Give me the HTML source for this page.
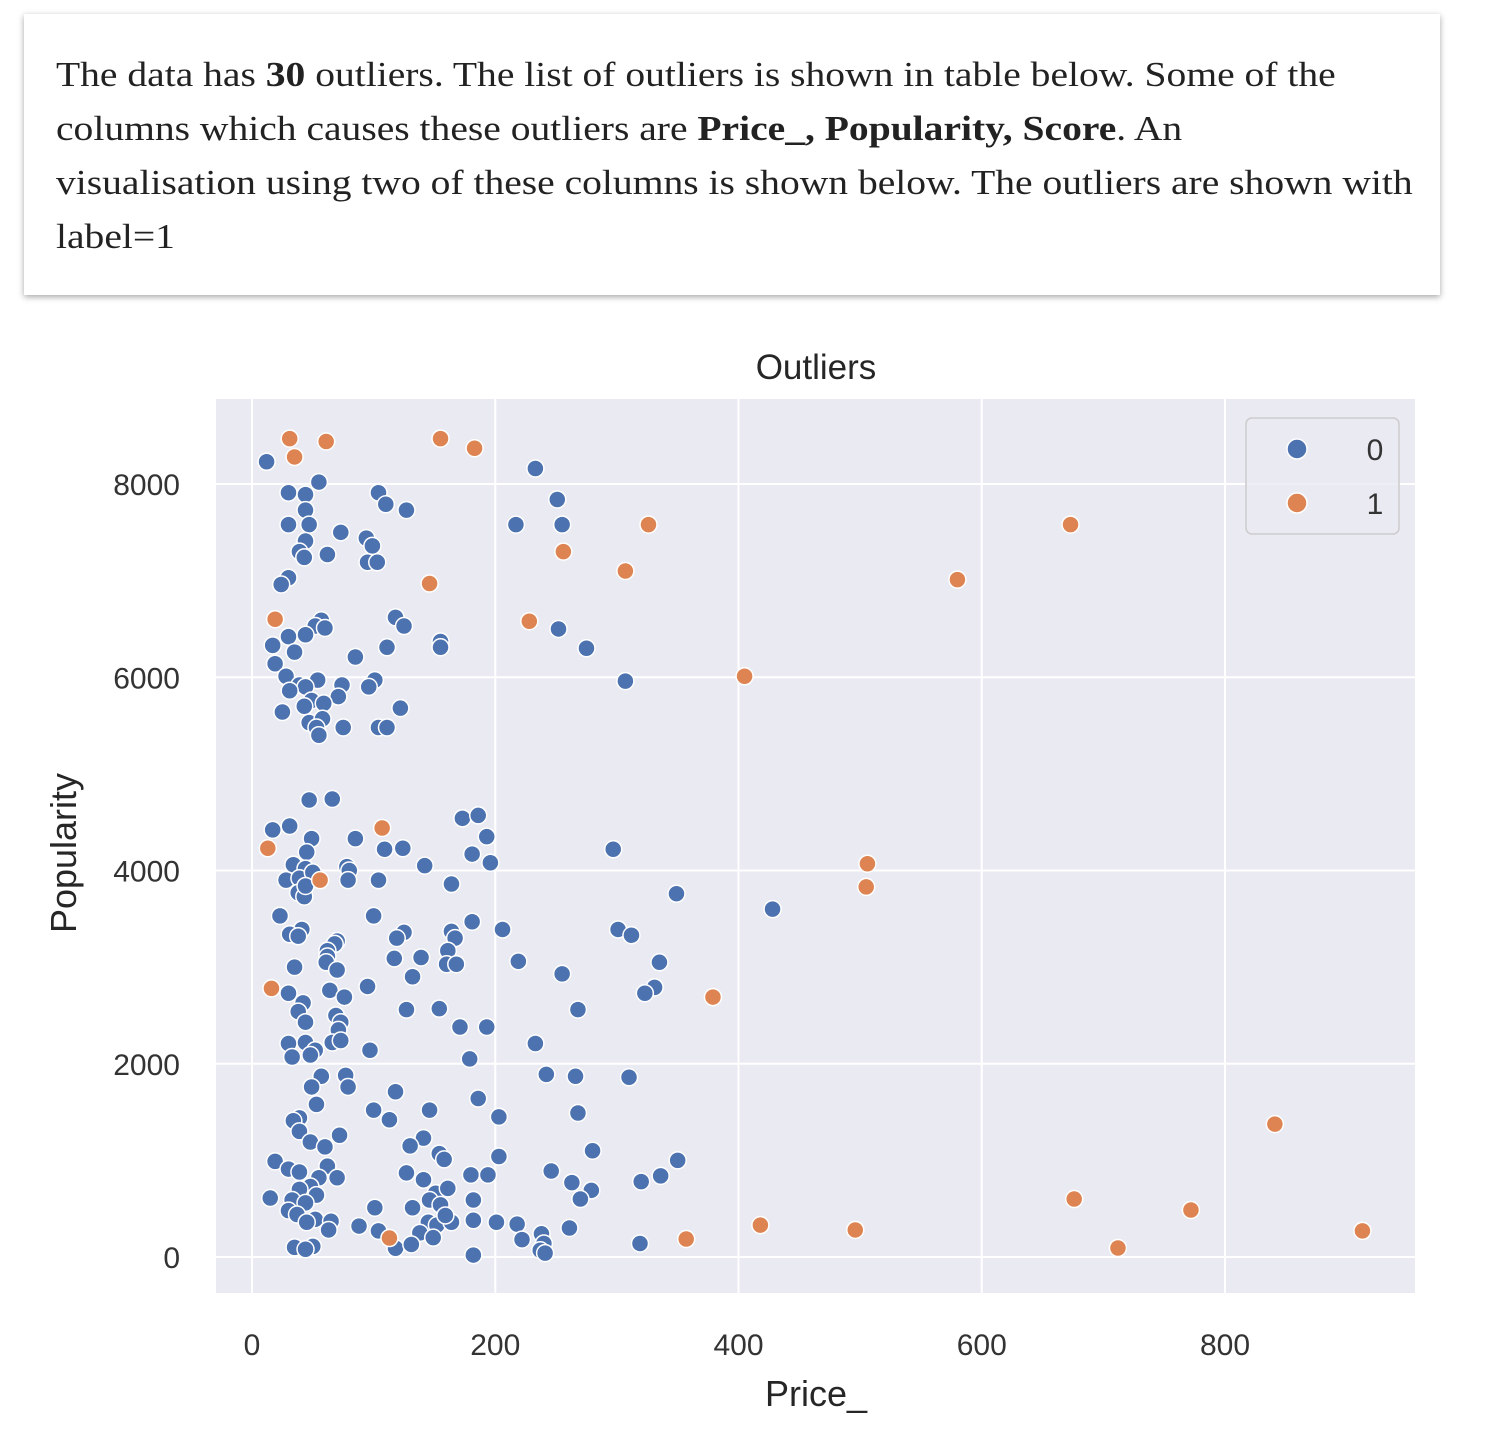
<!DOCTYPE html>
<html><head><meta charset="utf-8">
<style>
html,body{margin:0;padding:0;background:#fff;width:1500px;height:1448px;overflow:hidden}
#card{position:absolute;left:24px;top:14px;width:1416px;height:281px;background:#fff;box-shadow:0 2px 6px rgba(0,0,0,0.35);box-sizing:border-box;}
#card p{margin:0;position:absolute;left:32px;top:34px;font-family:"Liberation Serif",serif;font-size:35px;line-height:54px;color:#222;white-space:nowrap;transform:scaleX(1.13);transform-origin:0 0}
svg{position:absolute;left:0;top:0}
</style></head><body>
<div id="card">
<p>The data has <b>30</b> outliers. The list of outliers is shown in table below. Some of the<br>columns which causes these outliers are <b>Price_, Popularity, Score</b>. An<br>visualisation using two of these columns is shown below. The outliers are shown with<br>label=1</p>
</div>
<svg id="chart" width="1500" height="1448"></svg>
<script>
const xTicks=[0,200,400,600,800];
const yTicks=[0,2000,4000,6000,8000];
const blueX=[12,233,55,30,44,104,110,127,251,44,30,47,217,255,44,73,94,99,39,62,43,95,103,30,24,57,52,60,118,125,252,30,44,17,155,155,111,275,35,19,85,28,54,39,44,31,74,101,96,307,71,49,59,25,43,47,58,53,55,75,104,111,122,47,66,17,31,49,85,173,186,193,109,124,181,45,196,142,297,34,44,78,80,28,39,50,79,104,164,38,43,44,349,428,23,100,181,206,41,31,38,125,119,164,167,301,312,70,68,62,62,161,139,117,61,160,168,219,335,35,255,132,70,95,64,331,323,30,76,42,38,127,154,268,69,44,73,71,171,193,233,30,44,66,73,52,97,33,48,179,57,77,242,266,310,49,79,118,186,53,100,146,268,113,203,39,34,39,72,48,141,130,60,280,154,350,203,158,19,62,30,39,127,246,55,141,336,320,70,180,194,263,48,39,151,161,279,270,15,182,53,33,44,101,132,146,155,30,37,52,65,88,104,145,152,182,201,218,261,164,159,63,138,149,222,238,240,237,241,182,35,50,44,118,131,319,45];
const blueY=[8230,8160,8020,7910,7890,7910,7790,7730,7840,7730,7580,7580,7580,7580,7410,7500,7440,7360,7300,7270,7240,7190,7190,7030,6960,6590,6530,6510,6620,6530,6500,6420,6440,6330,6370,6310,6310,6300,6260,6140,6210,6010,5970,5920,5900,5860,5920,5970,5900,5960,5800,5760,5730,5640,5700,5530,5570,5480,5400,5480,5480,5480,5680,4730,4740,4420,4460,4330,4330,4540,4570,4350,4220,4230,4170,4190,4080,4050,4220,4060,4020,4040,4000,3900,3920,3980,3900,3900,3860,3770,3730,3840,3760,3600,3530,3530,3470,3390,3390,3340,3320,3360,3300,3370,3300,3390,3330,3270,3240,3170,3110,3170,3100,3090,3050,3030,3030,3060,3050,3000,2930,2900,2970,2800,2760,2790,2730,2730,2690,2630,2540,2560,2570,2560,2500,2430,2430,2350,2380,2380,2210,2210,2220,2220,2240,2140,2140,2070,2090,2050,1870,1880,1890,1870,1860,1760,1760,1710,1640,1580,1520,1520,1490,1420,1450,1440,1410,1300,1260,1190,1230,1150,1140,1100,1070,1000,1040,1010,990,940,910,880,870,890,820,800,840,780,820,850,850,770,730,700,660,710,690,600,610,590,640,590,560,510,510,590,540,480,440,390,370,320,270,360,330,380,360,340,300,360,430,280,250,200,180,240,140,70,40,20,100,110,80,90,130,140,360];
const orangeX=[31,35,61,155,183,326,256,307,146,19,228,405,580,673,107,13,56,506,505,16,379,841,676,772,418,496,712,913,357,113];
const orangeY=[8470,8280,8440,8470,8370,7580,7300,7100,6970,6600,6580,6010,7010,7580,4440,4230,3900,4070,3830,2780,2690,1375,600,486,330,280,93,270,186,196];

const NS='http://www.w3.org/2000/svg';
const svg=document.getElementById('chart');
const L=216,R=1415,T=399,B=1293;
function sx(v){return 252+v*(1225-252)/800;}
function sy(v){return 1257-v*(1257-484)/8000;}
function mk(tag,attrs,parent){const e=document.createElementNS(NS,tag);for(const k in attrs)e.setAttribute(k,attrs[k]);(parent||svg).appendChild(e);return e;}
const font='"Liberation Sans", sans-serif';
let bg=mk('rect',{x:L,y:T,width:R-L,height:B-T,fill:'#eaeaf2'});


xTicks.forEach(t=>{
  let g=mk('line',{x1:sx(t),x2:sx(t),y1:T,y2:B,stroke:'#fff','stroke-width':2});
  
  
  let tx=mk('text',{x:sx(t),y:1355,'text-anchor':'middle','font-family':font,'font-size':30,fill:'#333'});
  tx.textContent=t;
  
  
});
yTicks.forEach(t=>{
  let g=mk('line',{x1:L,x2:R,y1:sy(t),y2:sy(t),stroke:'#fff','stroke-width':2});
  
  
  let tx=mk('text',{x:180,y:sy(t)+11,'text-anchor':'end','font-family':font,'font-size':30,fill:'#333'});
  tx.textContent=t;
  
  
});
function dots(xs,ys,color,name){
  xs.forEach((x,i)=>{
    let c=mk('circle',{cx:sx(x),cy:sy(ys[i]),r:8.5,fill:color,stroke:'#fff','stroke-width':1.5});
    
    
  });
}
dots(blueX,blueY,'#4c72b0','point-label-0');
dots(orangeX,orangeY,'#dd8452','point-label-1');
let title=mk('text',{x:816,y:379,'text-anchor':'middle','font-family':font,'font-size':35,fill:'#262626'});
title.textContent='Outliers';


let xl=mk('text',{x:816,y:1406,'text-anchor':'middle','font-family':font,'font-size':36,fill:'#262626'});
xl.textContent='Price_';


let yl=mk('text',{x:0,y:0,'text-anchor':'middle','font-family':font,'font-size':36,fill:'#262626',transform:'translate(76,853) rotate(-90)'});
yl.textContent='Popularity';


let lg=mk('g',{});


mk('rect',{x:1246,y:418,width:153,height:116,rx:6,fill:'#eaeaf2','fill-opacity':0.8,stroke:'#cccccc','stroke-width':1.5},lg);
[['0','#4c72b0',449],['1','#dd8452',503]].forEach(([lab,col,y])=>{
  let e=mk('g',{},lg);
  
  
  mk('circle',{cx:1297,cy:y,r:10,fill:col,stroke:'#fff','stroke-width':1.5},e);
  let t=mk('text',{x:1375,y:y+11,'text-anchor':'middle','font-family':font,'font-size':30,fill:'#333'},e);
  t.textContent=lab;
});
</script>
</body></html>
